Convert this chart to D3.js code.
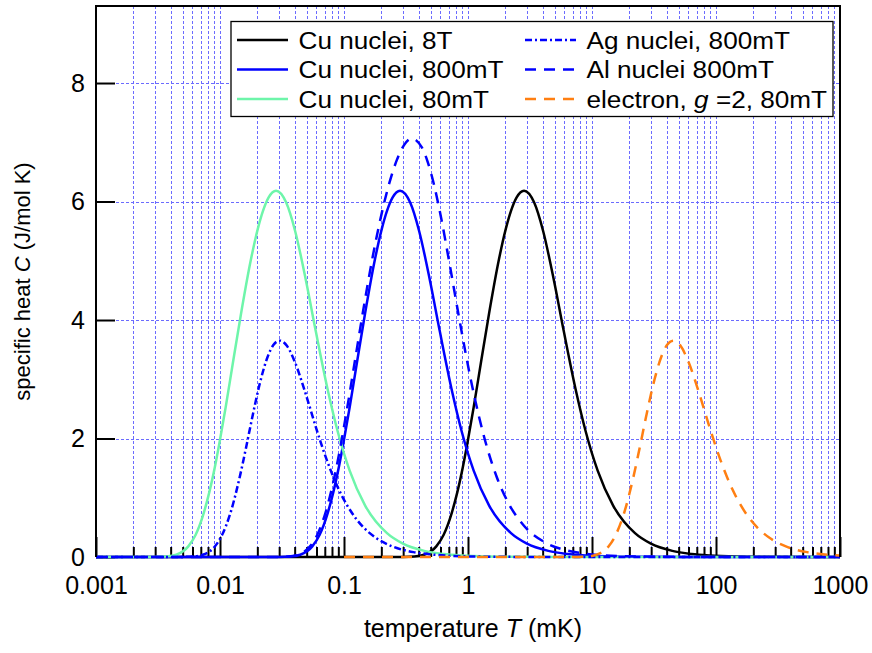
<!DOCTYPE html>
<html><head><meta charset="utf-8">
<script src="https://cdn.jsdelivr.net/npm/d3@7"></script>
<style>
body{margin:0;background:#fff}
text{font-family:"Liberation Sans",Arial,Helvetica,sans-serif;fill:#000}
</style>
</head><body>
<svg id="chart" width="872" height="653"></svg>
<script>
// ---------------- data ----------------
const xTickValues = [0.001, 0.01, 0.1, 1, 10, 100, 1000];
const xTickLabels = ["0.001", "0.01", "0.1", "1", "10", "100", "1000"];
const yTickValues = [0, 2, 4, 6, 8];
const yTickLabels = ["0", "2", "4", "6", "8"];

const seriesNames = ["Cu nuclei, 8T", "Cu nuclei, 800mT", "Cu nuclei, 80mT",
                     "Ag nuclei, 800mT", "Al nuclei 800mT", "electron, g =2, 80mT"];

// Cu nuclei, 8T : temperature (mK) and specific heat (J/mol K)
const cu8T_T = [0.001, 0.2, 0.30, 0.370, 0.444, 0.555, 0.635, 0.740, 0.889, 0.987, 1.111, 1.269, 1.481,
                1.777, 2.020, 2.222, 2.468, 2.830, 3.418, 4.039, 4.937, 5.924, 7.405, 8.886, 11.11, 14.81,
                22.22, 29.62, 44.43, 63.47, 88.86, 148, 300, 1000];
const cu8T_C = [0, 0, 0.0007, 0.0074, 0.038, 0.179, 0.372, 0.746, 1.420, 1.913, 2.528, 3.269, 4.119,
                5.025, 5.542, 5.841, 6.069, 6.181, 5.982, 5.499, 4.663, 3.809, 2.815, 2.123, 1.458, 0.868,
                0.402, 0.229, 0.103, 0.051, 0.026, 0.0094, 0.0023, 0.0002];

// Cu nuclei, 800mT
const cu800_T = [0.001, 0.02, 0.030, 0.0370, 0.0444, 0.0555, 0.0635, 0.0740, 0.0889, 0.0987, 0.1111, 0.1269,
                 0.1481, 0.1777, 0.2020, 0.2222, 0.2468, 0.2830, 0.3418, 0.4039, 0.4937, 0.5924, 0.7405,
                 0.8886, 1.111, 1.481, 2.222, 2.962, 4.443, 6.347, 8.886, 14.8, 30, 100, 1000];
const cu800_C = [0, 0, 0.0007, 0.0074, 0.038, 0.179, 0.372, 0.746, 1.420, 1.913, 2.528, 3.269,
                 4.119, 5.025, 5.542, 5.841, 6.069, 6.181, 5.982, 5.499, 4.663, 3.809, 2.815,
                 2.123, 1.458, 0.868, 0.402, 0.229, 0.103, 0.051, 0.026, 0.0094, 0.0023, 0.0002, 0];

// Cu nuclei, 80mT
const cu80_T = [0.001, 0.002, 0.0030, 0.00370, 0.00444, 0.00555, 0.00635, 0.00740, 0.00889, 0.00987, 0.01111,
                0.01269, 0.01481, 0.01777, 0.02020, 0.02222, 0.02468, 0.02830, 0.03418, 0.04039, 0.04937,
                0.05924, 0.07405, 0.08886, 0.1111, 0.1481, 0.2222, 0.2962, 0.4443, 0.6347, 0.8886, 1.48,
                3.0, 10, 1000];
const cu80_C = [0, 0, 0.0007, 0.0074, 0.038, 0.179, 0.372, 0.746, 1.420, 1.913, 2.528,
                3.269, 4.119, 5.025, 5.542, 5.841, 6.069, 6.181, 5.982, 5.499, 4.663,
                3.809, 2.815, 2.123, 1.458, 0.868, 0.402, 0.229, 0.103, 0.051, 0.026, 0.0094,
                0.0023, 0.0002, 0];

// Ag nuclei, 800mT
const ag_T = [0.001, 0.00454, 0.00606, 0.00727, 0.00909, 0.01039, 0.01212, 0.01454, 0.01616, 0.01818,
              0.02077, 0.02423, 0.02693, 0.03029, 0.03462, 0.04039, 0.04847, 0.06058, 0.0727, 0.0909,
              0.1212, 0.1454, 0.1818, 0.2423, 0.3635, 0.4847, 0.727, 1.454, 3.635, 1000];
const ag_C = [0, 0.0002, 0.0074, 0.038, 0.178, 0.371, 0.738, 1.382, 1.829, 2.350,
              2.898, 3.380, 3.577, 3.652, 3.564, 3.279, 2.790, 2.130, 1.635, 1.138,
              0.685, 0.489, 0.320, 0.183, 0.082, 0.047, 0.021, 0.0052, 0.0008, 0];

// Al nuclei 800mT
const al_T = [0.001, 0.02, 0.0304, 0.0355, 0.0426, 0.0532, 0.0608, 0.0709, 0.0851, 0.1064, 0.1216, 0.1419,
              0.1702, 0.1935, 0.2128, 0.2364, 0.266, 0.304, 0.3517, 0.4256, 0.4729, 0.532, 0.608, 0.709,
              0.851, 1.064, 1.419, 1.702, 2.128, 2.837, 4.256, 6.08, 8.51, 14.2, 42.6, 1000];
const al_C = [0, 0, 0.0014, 0.0074, 0.038, 0.179, 0.372, 0.746, 1.420, 2.528, 3.270, 4.126,
              5.062, 5.636, 6.012, 6.371, 6.694, 6.948, 7.064, 6.909, 6.670, 6.282, 5.716, 4.957,
              4.017, 2.949, 1.861, 1.355, 0.902, 0.524, 0.238, 0.118, 0.061, 0.022, 0.0024, 0];

// electron, g=2, 80mT
const el_T = [0.1, 6.79, 9.06, 10.87, 13.59, 15.53, 18.12, 21.74, 24.16, 27.18, 31.06, 36.23, 40.26,
              45.29, 51.76, 60.39, 72.47, 90.58, 108.7, 135.9, 181.2, 217.4, 271.8, 362.3, 543.5, 724.7, 1000];
const el_C = [0, 0.0002, 0.0074, 0.038, 0.178, 0.371, 0.738, 1.382, 1.829, 2.350, 2.898, 3.380, 3.577,
              3.652, 3.564, 3.279, 2.790, 2.130, 1.635, 1.138, 0.685, 0.489, 0.320, 0.183, 0.082, 0.047, 0.025];

// ---------------- styles ----------------
const seriesStyle = [
  {color: "#000000", dash: null},
  {color: "#0000ff", dash: null},
  {color: "#6ef5aa", dash: null},
  {color: "#0000ff", dash: "7,3,2,3"},
  {color: "#0000ff", dash: "11,8"},
  {color: "#ff7f12", dash: "11,8"}
];
const seriesData = [[cu8T_T, cu8T_C], [cu800_T, cu800_C], [cu80_T, cu80_C],
                    [ag_T, ag_C], [al_T, al_C], [el_T, el_C]];

// ---------------- layout ----------------
const L = 96, R = 840, T = 6, B = 557;
const svg = d3.select("#chart");
const x = d3.scaleLog().domain([0.001, 1000]).range([L, R]);
const y = d3.scaleLinear().domain([0, 9.3]).range([B, T]);

// grid
const minorVals = [];
for (let e = -3; e < 3; e++) for (let k = 1; k <= 9; k++) minorVals.push(k * Math.pow(10, e));
minorVals.push(1000);
const grid = svg.append("g").attr("stroke", "#6b6bff").attr("stroke-width", 1)
  .attr("stroke-dasharray", "3,2").attr("fill", "none");
grid.selectAll("line.v").data(minorVals).join("line").attr("class", "v")
  .attr("x1", d => Math.round(x(d)) + 0.5).attr("x2", d => Math.round(x(d)) + 0.5)
  .attr("y1", T).attr("y2", B);
grid.selectAll("line.h").data(yTickValues.filter(v => v > 0)).join("line").attr("class", "h")
  .attr("x1", L).attr("x2", R).attr("y1", d => Math.round(y(d)) + 0.5).attr("y2", d => Math.round(y(d)) + 0.5);

// axes
const xMinor = minorVals.filter(v => !xTickValues.some(t => Math.abs(Math.log10(v) - Math.log10(t)) < 1e-9));
const gxMinor = svg.append("g").attr("transform", `translate(0,${B})`)
  .call(d3.axisBottom(x).tickValues(xMinor).tickSize(-10).tickFormat(""));
const gx = svg.append("g").attr("transform", `translate(0,${B})`)
  .call(d3.axisBottom(x).tickValues(xTickValues).tickSize(-20).tickPadding(19)
        .tickFormat((d, i) => xTickLabels[i]));
const gy = svg.append("g").attr("transform", `translate(${L},0)`)
  .call(d3.axisLeft(y).tickValues(yTickValues).tickSize(-19).tickPadding(11)
        .tickFormat((d, i) => yTickLabels[i]));
[gxMinor, gx, gy].forEach(g => {
  g.select(".domain").remove();
  g.selectAll(".tick line").attr("stroke", "#000").attr("stroke-width", 2);
  g.selectAll(".tick text").attr("font-size", 25).attr("font-family", "Liberation Sans, Arial, sans-serif")
    .attr("fill", "#000");
});

// curves
svg.append("clipPath").attr("id", "clip").append("rect")
  .attr("x", L).attr("y", T).attr("width", R - L).attr("height", B - T + 4);
const line = d3.line().x(d => x(d[0])).y(d => y(d[1])).curve(d3.curveMonotoneX);
const curves = svg.append("g").attr("clip-path", "url(#clip)");
seriesData.forEach((s, i) => {
  const pts = s[0].map((t, j) => [t, s[1][j]]);
  curves.append("path").datum(pts).attr("d", line).attr("fill", "none")
    .attr("stroke", seriesStyle[i].color).attr("stroke-width", 2.5)
    .attr("stroke-dasharray", seriesStyle[i].dash);
});

// frame
svg.append("path").attr("d", `M${L},${B}V${T}H${R}V${B}`).attr("fill", "none")
  .attr("stroke", "#000").attr("stroke-width", 2);

// legend
const lg = svg.append("g");
lg.append("rect").attr("x", 231).attr("y", 21.5).attr("width", 602).attr("height", 95)
  .attr("fill", "#fff").attr("stroke", "#000").attr("stroke-width", 1.3);
const colX = [237, 525], rowY = [40, 69.5, 99];
seriesNames.forEach((name, i) => {
  const cx = colX[Math.floor(i / 3)], cy = rowY[i % 3];
  lg.append("line").attr("x1", cx).attr("x2", cx + 51).attr("y1", cy).attr("y2", cy)
    .attr("stroke", seriesStyle[i].color).attr("stroke-width", 2.5)
    .attr("stroke-dasharray", seriesStyle[i].dash);
  const t = lg.append("text").attr("transform", `translate(${cx + 61.5},${cy + 8.5}) scale(1.09,1)`)
    .attr("font-size", 24);
  if (name.indexOf(" g =") >= 0) {
    const parts = name.split(" g ");
    t.append("tspan").text(parts[0] + " ");
    t.append("tspan").attr("font-style", "italic").text("g");
    t.append("tspan").text(" " + parts[1]);
  } else t.text(name);
});

// axis titles
const xt = svg.append("text").attr("x", 473).attr("y", 637).attr("text-anchor", "middle").attr("font-size", 25);
xt.append("tspan").text("temperature ");
xt.append("tspan").attr("font-style", "italic").text("T");
xt.append("tspan").text(" (mK)");
const yt = svg.append("text").attr("transform", `translate(30,${(T + B) / 2}) rotate(-90)`)
  .attr("text-anchor", "middle").attr("font-size", 22);
yt.append("tspan").text("specific heat ");
yt.append("tspan").attr("font-style", "italic").text("C");
yt.append("tspan").text(" (J/mol K)");
</script>
</body></html>
